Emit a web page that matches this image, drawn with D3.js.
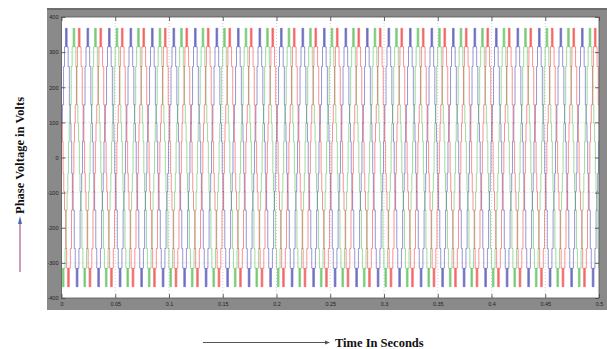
<!DOCTYPE html>
<html>
<head>
<meta charset="utf-8">
<script src="https://cdn.jsdelivr.net/npm/d3@7"></script>
<style>
  html, body { margin: 0; padding: 0; background: #fff; }
  svg { display: block; }
</style>
</head>
<body>
<svg id="chart" width="607" height="349"></svg>
<script>
// Axis ticks
const timeTicks = [0, 0.05, 0.1, 0.15, 0.2, 0.25, 0.3, 0.35, 0.4, 0.45, 0.5];
const voltTicks = [-400, -300, -200, -100, 0, 100, 200, 300, 400];

// Stepped phase voltage: switching instants (ms from the positive zero crossing)
// and the level (V) held after each instant, for the positive half cycle.
// The negative half repeats the same instants 10 ms later with negated levels.
const halfWaveTimes  = [0, 0.6, 1.3, 2.4, 3.3, 4.2, 4.8, 5.2, 5.8, 6.7, 7.8, 8.6, 9.3];
const halfWaveLevels = [45, 97, 150, 259, 315, 368, 315, 368, 315, 259, 150, 97, 45];
const periodMs = 20;
const cycles = 26;

// Three phases: colour and start of each phase's first positive half (ms)
const phaseNames  = ["Va", "Vb", "Vc"];
const phaseColors = ["#2b2ba6", "#3cb43c", "#ee2222"];
const phaseStart  = [-0.5, 6.6, 11.5];

const svg = d3.select("#chart");

const x = d3.scaleLinear().domain([0, 0.5]).range([61.5, 599]);
const y = d3.scaleLinear().domain([-400, 400]).range([298, 17]);

// Scope frame
svg.append("rect").attr("x", 47).attr("y", 8).attr("width", 560).attr("height", 302)
  .attr("fill", "#8a8a8a");
svg.append("rect").attr("x", 47).attr("y", 8).attr("width", 560).attr("height", 2)
  .attr("fill", "#6e6e6e");
svg.append("rect").attr("x", x(0)).attr("y", y(400))
  .attr("width", x(0.5) - x(0)).attr("height", y(-400) - y(400))
  .attr("fill", "#ffffff");

// Dotted grid
const grid = svg.append("g").attr("stroke", "#c4c4c4").attr("stroke-width", 0.8)
  .attr("stroke-dasharray", "1,2");
grid.selectAll(".gx").data(timeTicks.slice(1, -1)).join("line")
  .attr("x1", d => x(d)).attr("x2", d => x(d)).attr("y1", y(400)).attr("y2", y(-400));
grid.selectAll(".gy").data(voltTicks.slice(1, -1)).join("line")
  .attr("y1", d => y(d)).attr("y2", d => y(d)).attr("x1", x(0)).attr("x2", x(0.5));

// Build each phase's points from the half-cycle table
function phasePoints(start) {
  const pts = [];
  for (let k = -1; k < cycles; k++) {
    for (let half = 0; half < 2; half++) {
      const sign = half === 0 ? 1 : -1;
      halfWaveTimes.forEach((t, i) => {
        const ms = start + k * periodMs + half * periodMs / 2 + t;
        pts.push({ t: ms / 1000, v: sign * halfWaveLevels[i] });
      });
    }
  }
  return pts;
}

svg.append("defs").append("clipPath").attr("id", "plotClip")
  .append("rect").attr("x", x(0)).attr("y", y(400))
  .attr("width", x(0.5) - x(0)).attr("height", y(-400) - y(400));

const line = d3.line().x(d => x(d.t)).y(d => y(d.v)).curve(d3.curveStepAfter);

const traces = svg.append("g").attr("clip-path", "url(#plotClip)");
phaseNames.forEach((name, i) => {
  traces.append("path")
    .datum(phasePoints(phaseStart[i]))
    .attr("class", "phase " + name)
    .attr("fill", "none")
    .attr("stroke", phaseColors[i])
    .attr("stroke-width", 0.7)
    .attr("stroke-opacity", 0.7)
    .attr("d", line);
});

// Plot border
svg.append("rect").attr("x", x(0)).attr("y", y(400))
  .attr("width", x(0.5) - x(0)).attr("height", y(-400) - y(400))
  .attr("fill", "none").attr("stroke", "#555").attr("stroke-width", 0.8);

// Axes with inward ticks
const fontTick = "Arial, 'Liberation Sans', sans-serif";
const axL = d3.axisLeft(y).tickValues(voltTicks).tickSize(-4).tickPadding(3).tickFormat(d => String(d));
const axB = d3.axisBottom(x).tickValues(timeTicks).tickSize(-4).tickPadding(4).tickFormat(d => String(d));
const axT = d3.axisTop(x).tickValues(timeTicks).tickSize(-4).tickFormat("");
const axR = d3.axisRight(y).tickValues(voltTicks).tickSize(-4).tickFormat("");

function styleAxis(g) {
  g.select(".domain").remove();
  g.selectAll(".tick line").attr("stroke", "#444").attr("stroke-width", 0.8);
  g.selectAll(".tick text").attr("fill", "#222").attr("font-size", 5.5).attr("font-family", fontTick);
}
svg.append("g").attr("transform", `translate(${x(0)},0)`).call(axL).call(styleAxis);
svg.append("g").attr("transform", `translate(0,${y(-400)})`).call(axB).call(styleAxis);
svg.append("g").attr("transform", `translate(0,${y(400)})`).call(axT).call(styleAxis);
svg.append("g").attr("transform", `translate(${x(0.5)},0)`).call(axR).call(styleAxis);

// Axis titles with arrows
const titleFont = "'Liberation Serif', 'Times New Roman', serif";
svg.append("line").attr("x1", 203).attr("x2", 327).attr("y1", 342.5).attr("y2", 342.5)
  .attr("stroke", "#555").attr("stroke-width", 1);
svg.append("path").attr("d", "M325,340.5 L330,342.5 L325,344.5 Z").attr("fill", "#555");
svg.append("text").attr("x", 335).attr("y", 346.5)
  .attr("font-family", titleFont).attr("font-weight", "bold").attr("font-size", 12.5)
  .attr("fill", "#111").text("Time In Seconds");

svg.append("line").attr("x1", 20).attr("x2", 20).attr("y1", 272).attr("y2", 222)
  .attr("stroke", "#9a3a78").attr("stroke-width", 1);
svg.append("path").attr("d", "M18,224 L20,216 L22,224 Z").attr("fill", "#4a6ab0");
svg.append("text").attr("transform", "translate(24,214) rotate(-90)")
  .attr("font-family", titleFont).attr("font-weight", "bold").attr("font-size", 12.5)
  .attr("fill", "#111").text("Phase Voltage in Volts");
</script>
</body>
</html>
